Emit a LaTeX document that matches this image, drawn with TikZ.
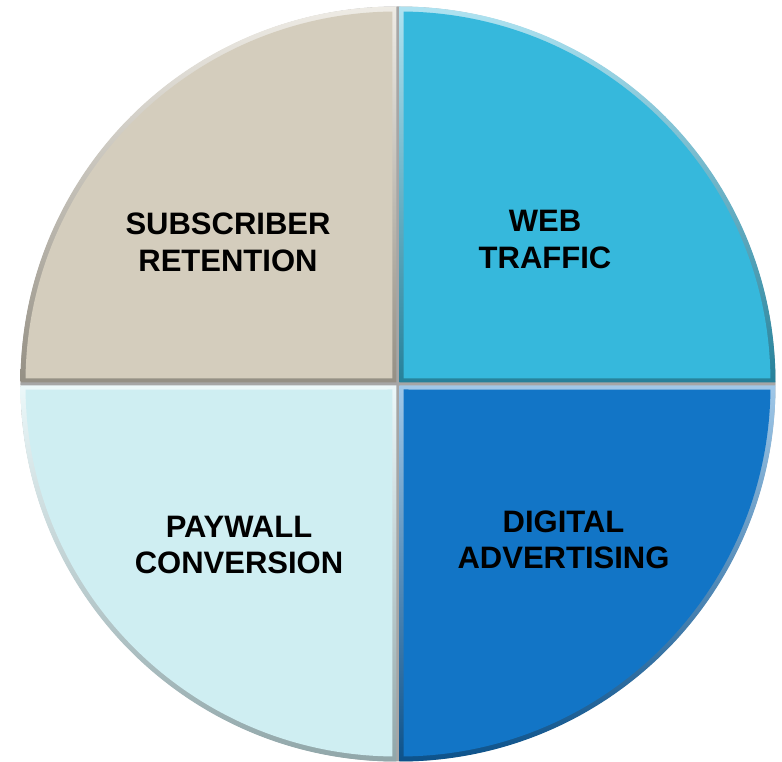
\documentclass[tikz,border=0pt]{standalone}
\usepackage{fontspec}
\setmainfont{Liberation Sans}
\definecolor{retention}{HTML}{D4CDBD}
\definecolor{traffic}{HTML}{36B8DC}
\definecolor{paywall}{HTML}{CFEEF2}
\definecolor{advert}{HTML}{1275C6}
\begin{document}
\begin{tikzpicture}[x=1pt, y=1pt, every node/.style={align=center, inner sep=0pt, font=\fontsize{31}{36.5}\selectfont\bfseries}]
\useasboundingbox (-398,-378) rectangle (384,384);
\fill[black!35] (0,0) circle (377.5);
% four bevelled quarters, pulled apart a little
\foreach \s/\col/\dx/\dy in {90/retention/-1.5/1.5, 0/traffic/1.5/1.5, 180/paywall/-1.5/-1.5, 270/advert/1.5/-1.5} {
  \begin{scope}[shift={(\dx,\dy)}]
    \shade[top color=\col!40!white, bottom color=\col!70!black] (0,0) -- (\s:376) arc[start angle=\s, end angle=\s+90, radius=376] -- cycle;
    \fill[\col] (\s+45:5.66) -- (\s+0.64:371) arc[start angle=\s+0.64, end angle=\s+89.36, radius=371] -- cycle;
  \end{scope}
}
\node (retention) at (-170,141.5) {SUBSCRIBER\\RETENTION};
\node (traffic) at (147,144.5) {WEB\\TRAFFIC};
\node (paywall) at (-159,-161) {PAYWALL\\CONVERSION};
\node (advert) at (165.5,-156) {DIGITAL\\ADVERTISING};
\end{tikzpicture}
\end{document}
